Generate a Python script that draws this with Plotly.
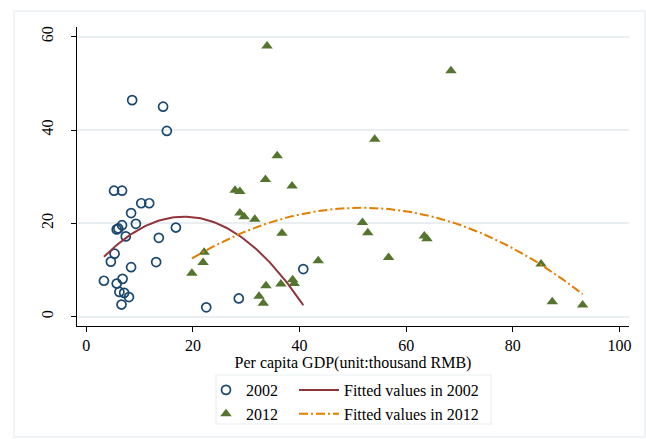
import numpy as np
import plotly.graph_objects as go

# Per capita GDP (thousand RMB) and indicator value by province, 2002
gdp_2002 = [5.2, 6.7, 10.3, 11.8, 8.4, 6.7, 6.0, 5.7, 9.3, 7.4, 16.8, 13.6, 5.3, 4.6,
            13.1, 8.4, 3.3, 6.8, 5.7, 6.2, 7.1, 8.0, 6.6, 8.6, 14.4, 15.1, 22.5, 28.6, 40.7]
val_2002 = [27.0, 27.0, 24.3, 24.3, 22.2, 19.6, 18.9, 18.7, 19.9, 17.2, 19.1, 16.9, 13.5, 11.8,
            11.7, 10.6, 7.7, 8.1, 7.1, 5.3, 5.1, 4.2, 2.6, 46.4, 45.0, 39.8, 2.0, 3.9, 10.2]

# Same indicators, 2012
gdp_2012 = [33.9, 68.4, 54.1, 35.8, 33.6, 38.6, 27.9, 28.8, 28.8, 29.6, 31.6, 51.8, 52.8, 36.7,
            63.4, 63.9, 22.1, 21.9, 19.8, 43.5, 33.7, 36.5, 38.7, 39.0, 32.4, 33.2, 56.7, 85.3,
            87.4, 93.1]
val_2012 = [58.0, 52.7, 38.0, 34.5, 29.4, 28.0, 27.1, 26.8, 22.2, 21.4, 20.9, 20.2, 18.0, 17.9,
            17.3, 16.7, 13.8, 11.6, 9.3, 12.0, 6.6, 7.0, 7.9, 7.1, 4.4, 2.9, 12.7, 11.3,
            3.2, 2.5]

x_ticks = [0, 20, 40, 60, 80, 100]
y_ticks = [0, 20, 40, 60]
x_title = "Per capita GDP(unit:thousand RMB)"

NAVY = "#1a476f"
MAROON = "#90353b"
GREEN = "#55752f"
ORANGE = "#e37e00"
FONT = "Liberation Serif, Times New Roman, serif"


def quad_fit(x, y, n=100):
    """Quadratic prediction over the observed range of x."""
    x = np.asarray(x, float)
    y = np.asarray(y, float)
    coef = np.polyfit(x, y, 2)
    grid = np.linspace(x.min(), x.max(), n)
    return grid, np.polyval(coef, grid)


fx02, fy02 = quad_fit(gdp_2002, val_2002)
fx12, fy12 = quad_fit(gdp_2012, val_2012)

fig = go.Figure()

fig.add_trace(go.Scatter(
    x=gdp_2002, y=val_2002, mode="markers", name="2002", legend="legend",
    marker=dict(symbol="circle-open", size=9, color=NAVY, line=dict(width=1.7, color=NAVY)),
))
fig.add_trace(go.Scatter(
    x=gdp_2012, y=val_2012, mode="markers", name="2012", legend="legend",
    marker=dict(symbol="triangle-up", size=10, color=GREEN),
))
fig.add_trace(go.Scatter(
    x=fx02, y=fy02, mode="lines", name="Fitted values in 2002", legend="legend2",
    line=dict(color=MAROON, width=2),
))
fig.add_trace(go.Scatter(
    x=fx12, y=fy12, mode="lines", name="Fitted values in 2012", legend="legend2",
    line=dict(color=ORANGE, width=2, dash="9px,3px,2px,3px"),
))

# Pixel geometry of the plotting area (646 x 439 canvas)
L, R, T, B = 77, 629, 27, 326
W, H = R - L, B - T


def px(xp):
    return (xp - L) / W


def py(yp):
    return (B - yp) / H


legend_style = dict(
    font=dict(family=FONT, size=16, color="black"),
    bgcolor="rgba(0,0,0,0)", borderwidth=0,
    xanchor="left", yanchor="top", orientation="v",
    tracegroupgap=0,
)

fig.update_layout(
    width=646, height=439,
    margin=dict(l=L, r=646 - R, t=T, b=439 - B, autoexpand=False),
    paper_bgcolor="white", plot_bgcolor="white",
    font=dict(family=FONT, size=16, color="black"),
    showlegend=True,
    legend=dict(x=px(206), y=py(373), itemwidth=30, **legend_style),
    legend2=dict(x=px(294), y=py(373), itemwidth=40, **legend_style),
    xaxis=dict(
        range=[-1.75, 101.8], tickvals=x_ticks, ticktext=[str(v) for v in x_ticks],
        showline=True, linecolor="black", linewidth=1.2,
        ticks="outside", ticklen=5, tickwidth=1.2, tickcolor="black",
        showgrid=False, zeroline=False,
        tickfont=dict(family=FONT, size=16, color="black"),
        title=dict(text=x_title, font=dict(family=FONT, size=16, color="black"), standoff=0),
    ),
    yaxis=dict(
        range=[-2.0, 62.07], tickvals=y_ticks, ticktext=[str(v) for v in y_ticks],
        showline=True, linecolor="black", linewidth=1.2,
        ticks="outside", ticklen=5, tickwidth=1.2, tickcolor="black",
        showgrid=True, gridcolor="#e9eef1", gridwidth=2, zeroline=False,
        tickangle=-90, ticklabelstandoff=12,
        tickfont=dict(family=FONT, size=16, color="black"),
    ),
    shapes=[
        # outer graph frame
        dict(type="rect", xref="paper", yref="paper",
             x0=px(14), x1=px(645), y0=py(11), y1=py(437),
             line=dict(color="#edf1f4", width=1.5), fillcolor="rgba(0,0,0,0)", layer="below"),
        # legend frame
        dict(type="rect", xref="paper", yref="paper",
             x0=px(216), x1=px(491), y0=py(375), y1=py(424),
             line=dict(color="#e9eff1", width=1.2), fillcolor="rgba(0,0,0,0)", layer="below"),
    ],
)

fig.write_html("out.html")
